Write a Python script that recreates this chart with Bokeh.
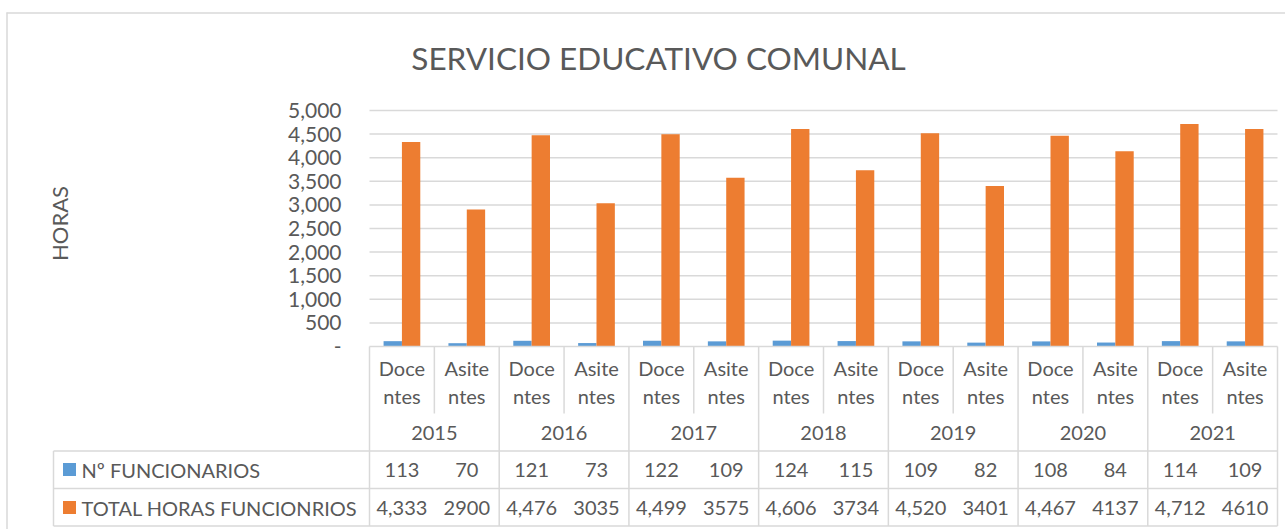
import math
from bokeh.plotting import figure
from bokeh.models import Range1d
from bokeh.core.properties import value
from bokeh.embed import file_html
from bokeh.resources import INLINE

# ---------------- data ----------------
years = ["2015", "2016", "2017", "2018", "2019", "2020", "2021"]
subcats = ["Docentes", "Asitentes"]
subcat_wrap = [4, 5]  # where Excel wrapped the category names
series_names = ["Nº FUNCIONARIOS", "TOTAL HORAS FUNCIONRIOS"]
funcionarios = [113, 70, 121, 73, 122, 109, 124, 115, 109, 82, 108, 84, 114, 109]
horas = [4333, 2900, 4476, 3035, 4499, 3575, 4606, 3734, 4520, 3401, 4467, 4137, 4712, 4610]
y_ticks = [0, 500, 1000, 1500, 2000, 2500, 3000, 3500, 4000, 4500, 5000]
y_axis_title = "HORAS"
chart_title = "SERVICIO EDUCATIVO COMUNAL"

# ---------------- styles ----------------
BLUE = "#5B9BD5"
ORANGE = "#ED7D31"
TEXT = "#595959"
GRID = "#D9D9D9"
FONT = value("Lato")
FS = "20px"
FS_NUM = "20px"
FS_TICK = "21px"

# ---------------- layout helpers (page pixels -> data) ----------------
W, H = 1285, 529
N = len(years) * len(subcats)
X0 = 369.0          # left edge of the first category column
X_END = 1277.0      # right edge of the last category column
COL_W = (X_END - X0) / N
Y0 = 346.0          # pixel row of value 0
K = 5000 / 236.0    # value units per pixel


def xv(px):
    return (px - X0) / COL_W


def yv(py):
    return (Y0 - py) * K


p = figure(width=W, height=H,
           x_range=Range1d(xv(0), xv(W)), y_range=Range1d(yv(H), yv(0)),
           min_border_left=0, min_border_right=0, min_border_top=0, min_border_bottom=0,
           x_axis_location=None, y_axis_location=None,
           toolbar_location=None, output_backend="svg",
           outline_line_color=None, background_fill_color="white",
           border_fill_color="white")
p.grid.visible = False

# chart area border
p.segment(x0=[xv(6), xv(6.5)], x1=[xv(W), xv(6.5)], y0=[yv(12.5), yv(12)], y1=[yv(12.5), yv(H)],
          line_color=GRID, line_width=1.5)

# title
p.text(x=[xv(658)], y=[yv(57)], text=[chart_title], text_align="center", text_baseline="middle",
       text_font=FONT, text_font_size="31.5px", text_color=TEXT)

# gridlines
gl = y_ticks[1:]
p.segment(x0=[0] * len(gl), x1=[N] * len(gl), y0=gl, y1=gl, line_color=GRID, line_width=1.5)

# bars
centers = [i + 0.5 for i in range(N)]
bw = 0.283
p.vbar(x=[c - bw / 2 for c in centers], top=funcionarios, width=bw,
       fill_color=BLUE, line_color=None)
p.vbar(x=[c + bw / 2 for c in centers], top=horas, width=bw,
       fill_color=ORANGE, line_color=None)

# y tick labels
tick_labels = ["-" if t == 0 else f"{t:,}" for t in y_ticks]
p.text(x=[xv(341)] * len(y_ticks), y=y_ticks, text=tick_labels,
       text_align="right", text_baseline="middle", text_font=FONT,
       text_font_size=FS_TICK, text_color=TEXT)

# y axis title
p.text(x=[xv(59)], y=[yv(223)], text=[y_axis_title], angle=math.pi / 2,
       text_align="center", text_baseline="middle", text_font=FONT,
       text_font_size="22px", text_color=TEXT)

# ---------------- data table ----------------
xl = xv(53)
y_top = 0
y_sub = yv(413)
y_r1 = yv(450.5)
y_r2 = yv(488)
y_bot = yv(525.5)

hx0 = [0, xl, xl, xl]
hx1 = [N, N, N, N]
hy = [y_top, y_r1, y_r2, y_bot]
p.segment(x0=hx0, x1=hx1, y0=hy, y1=hy, line_color=GRID, line_width=1.5)

vx, vy0, vy1 = [], [], []
for i in range(N + 1):
    vx.append(i)
    vy0.append(y_top)
    vy1.append(y_bot if i % len(subcats) == 0 else y_sub)
vx.append(xl)
vy0.append(y_r1)
vy1.append(y_bot)
p.segment(x0=vx, x1=vx, y0=vy0, y1=vy1, line_color=GRID, line_width=1.5)

# category labels (wrapped in two lines)
line1, line2 = [], []
for _ in years:
    for s, w in zip(subcats, subcat_wrap):
        line1.append(s[:w])
        line2.append(s[w:])
p.text(x=centers, y=[yv(367)] * N, text=line1, text_align="center", text_baseline="middle",
       text_font=FONT, text_font_size=FS, text_color=TEXT)
p.text(x=centers, y=[yv(395)] * N, text=line2, text_align="center", text_baseline="middle",
       text_font=FONT, text_font_size=FS, text_color=TEXT)

# years
p.text(x=[j * 2 + 1 for j in range(len(years))], y=[yv(432)] * len(years), text=years,
       text_align="center", text_baseline="middle", text_font=FONT,
       text_font_size=FS_NUM, text_color=TEXT)

# row values
r1 = [str(v) for v in funcionarios]
r2 = [f"{v:,}" if i % 2 == 0 else str(v) for i, v in enumerate(horas)]
p.text(x=centers, y=[yv(469)] * N, text=r1, text_align="center", text_baseline="middle",
       text_font=FONT, text_font_size=FS_NUM, text_color=TEXT)
p.text(x=centers, y=[yv(507)] * N, text=r2, text_align="center", text_baseline="middle",
       text_font=FONT, text_font_size=FS_NUM, text_color=TEXT)

# legend keys and names
p.scatter(x=[xv(69)] * 2, y=[yv(469), yv(507)], marker="square", size=13,
          fill_color=[BLUE, ORANGE], line_color=None)
p.text(x=[xv(81)] * 2, y=[yv(469), yv(507)], text=series_names,
       text_align="left", text_baseline="middle", text_font=FONT,
       text_font_size=FS, text_color=TEXT)

open("out.html", "w").write(file_html(p, INLINE))
